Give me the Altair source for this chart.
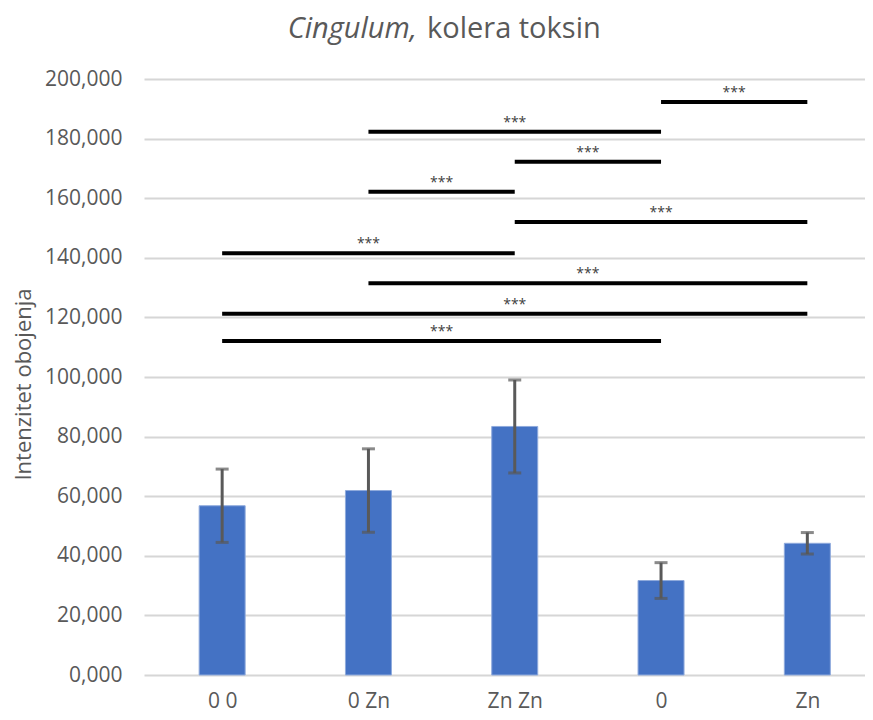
import json
import altair as alt
import pandas as pd

# ---- data ----
categories = ["0 0", "0 Zn", "Zn Zn", "0", "Zn"]
means = [56.8, 61.9, 83.4, 31.7, 44.2]
errors = [12.3, 14.0, 15.6, 6.0, 3.6]

sig_from = ["0", "0 Zn", "Zn Zn", "0 Zn", "Zn Zn", "0 0", "0 Zn", "0 0", "0 0"]
sig_to = ["Zn", "0", "0", "Zn Zn", "Zn", "Zn Zn", "Zn", "Zn", "0"]
sig_y = [192.3, 182.3, 172.2, 162.2, 152.0, 141.5, 131.5, 121.2, 112.1]
sig_text = ["***"] * len(sig_y)

y_ticks = [0, 20, 40, 60, 80, 100, 120, 140, 160, 180, 200]
title_italic = "Cingulum,"
title_rest = "kolera toksin"
y_title = "Intenzitet obojenja"

# ---- tables ----
idx = list(range(len(categories)))
bars = pd.DataFrame({
    "idx": idx,
    "cat": categories,
    "mean": means,
    "lo": [m - e for m, e in zip(means, errors)],
    "hi": [m + e for m, e in zip(means, errors)],
})
sig = pd.DataFrame({
    "x1": [categories.index(c) for c in sig_from],
    "x2": [categories.index(c) for c in sig_to],
    "sy": sig_y,
    "lab": sig_text,
})
sig["xm"] = (sig["x1"] + sig["x2"]) / 2

FONT = "Open Sans"
GREY = "#595959"
label_expr = json.dumps(categories) + "[datum.value]"

xscale = alt.Scale(domain=[-0.5, 4.36], nice=False, zero=False)
yscale = alt.Scale(domain=[0, 200], nice=False, zero=True)

base = alt.Chart(bars)

bar_layer = base.mark_bar(size=46, color="#4472C4", stroke="#8FAADC", strokeWidth=1).encode(
    x=alt.X("idx:Q", scale=xscale,
            axis=alt.Axis(values=idx, labelExpr=label_expr, grid=False, ticks=False,
                          domain=False, title=None, labelFont=FONT, labelFontSize=21,
                          labelColor=GREY, labelPadding=15, labelFlush=False,
                          labelOverlap=False)),
    y=alt.Y("mean:Q", scale=yscale,
            axis=alt.Axis(values=y_ticks,
                          labelExpr="replace(format(datum.value, '.3f'), '.', ',')",
                          grid=True, gridColor="#D6D6D6", gridWidth=2, ticks=False,
                          domain=False, labelFont=FONT, labelFontSize=21,
                          labelColor=GREY, labelPadding=22, title=y_title,
                          titleFont=FONT, titleFontSize=22, titleFontWeight="normal",
                          titleColor=GREY, titleAngle=-90, titleX=-114, titleY=305,
                          titleAlign="center", titleBaseline="alphabetic")),
)

err_layer = base.mark_rule(color=GREY, strokeWidth=3).encode(
    x=alt.X("idx:Q", scale=xscale),
    y=alt.Y("lo:Q", scale=yscale),
    y2="hi:Q",
)

cap_layer = base.transform_fold(["lo", "hi"], as_=["k", "v"]).mark_tick(
    orient="horizontal", size=13, thickness=3, color=GREY
).encode(
    x=alt.X("idx:Q", scale=xscale),
    y=alt.Y("v:Q", scale=yscale),
)

sig_base = alt.Chart(sig)
sig_lines = sig_base.mark_rule(color="black", strokeWidth=4).encode(
    x=alt.X("x1:Q", scale=xscale),
    x2="x2:Q",
    y=alt.Y("sy:Q", scale=yscale),
)
sig_labels = sig_base.mark_text(font=FONT, fontSize=14, color="#404040",
                                baseline="alphabetic", dy=-5).encode(
    x=alt.X("xm:Q", scale=xscale),
    y=alt.Y("sy:Q", scale=yscale),
    text="lab:N",
)

title_df = pd.DataFrame({"a": [title_italic], "b": [title_rest]})
t1 = alt.Chart(title_df).mark_text(align="right", baseline="alphabetic", font=FONT,
                                   fontSize=29, fontStyle="italic", color=GREY).encode(
    x=alt.value(273), y=alt.value(-41), text="a:N")
t2 = alt.Chart(title_df).mark_text(align="left", baseline="alphabetic", font=FONT,
                                   fontSize=29, color=GREY).encode(
    x=alt.value(283), y=alt.value(-41), text="b:N")

chart = alt.layer(bar_layer, err_layer, cap_layer, sig_lines, sig_labels, t1, t2).properties(
    width=721, height=596,
    autosize=alt.AutoSizeParams(type="none"),
    padding={"left": 136, "top": 71, "right": 0, "bottom": 37},
    background="white",
).configure_view(stroke=None)

chart.save("out.html", embed_options={"renderer": "svg", "actions": False})
